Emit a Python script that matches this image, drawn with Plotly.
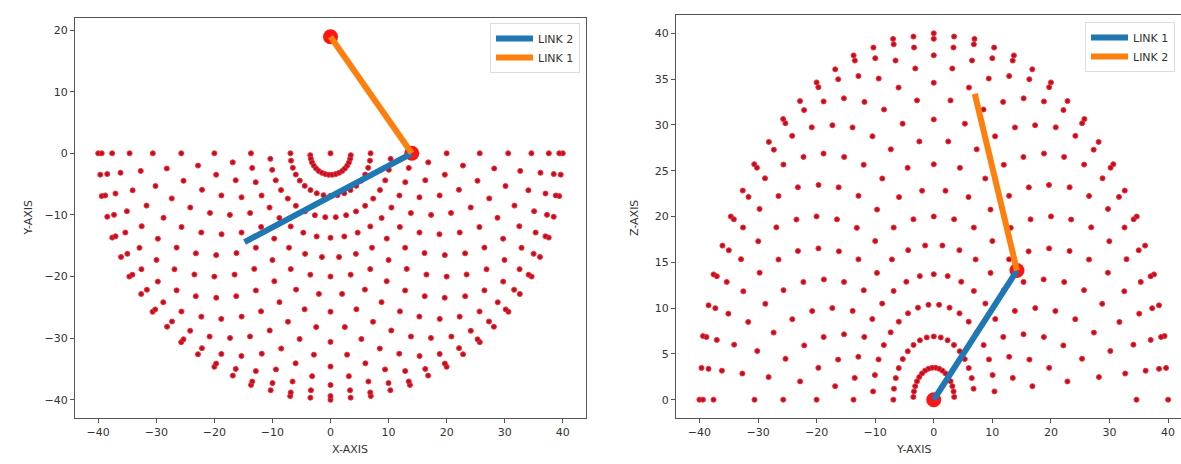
import numpy as np
import plotly.graph_objects as go

# ---------------- data ----------------
# ring radii of the sampled reach points (even / odd sampling rows)
even_radii = [40.0, 39.4, 37.6, 34.6, 30.6, 25.7, 20.0, 13.7, 6.9]
odd_radii = [39.8, 38.6, 36.3, 32.8, 28.3, 22.9, 16.9, 10.4, 3.5]
center_point = [0.0]

# angles (degrees) of the dots on each ring, left view (X-Y, lower half)
left_even_angles = [-180, -170, -160, -150, -140, -130, -120, -110, -100, -90,
                    -80, -70, -60, -50, -40, -30, -20, -10, 0]
left_odd_angles = [-175, -165, -155, -145, -135, -125, -115, -105, -95,
                   -85, -75, -65, -55, -45, -35, -25, -15, -5]
# right view (Y-Z, upper half)
right_even_angles = [0, 10, 20, 30, 40, 50, 60, 70, 80, 90,
                     100, 110, 120, 130, 140, 150, 160, 170, 180]
right_odd_angles = [5, 15, 25, 35, 45, 55, 65, 75, 85,
                    95, 105, 115, 125, 135, 145, 155, 165, 175]
# dots that are absent in the right view on the Z = 0 row: (radius, angle)
right_absent_r = [39.4, 37.6, 30.6, 25.7, 20.0, 13.7, 6.9, 34.6]
right_absent_a = [0, 0, 0, 0, 0, 0, 0, 180]

# links, left view (X-Y)
left_link1_x = [0.0, 14.0]
left_link1_y = [18.9, 0.0]
left_link2_x = [14.0, -14.8]
left_link2_y = [0.0, -14.4]
left_joint_x = [0.0, 14.0]
left_joint_y = [18.9, 0.0]

# links, right view (Y-Z)
right_link1_x = [0.0, 14.2]
right_link1_y = [0.0, 14.1]
right_link2_x = [14.2, 7.0]
right_link2_y = [14.1, 33.4]
right_joint_x = [0.0, 14.2]
right_joint_y = [0.0, 14.1]

x_ticks = [-40, -30, -20, -10, 0, 10, 20, 30, 40]
left_y_ticks = [-40, -30, -20, -10, 0, 10, 20]
right_y_ticks = [0, 5, 10, 15, 20, 25, 30, 35, 40]

BLUE = "#1f77b4"
ORANGE = "#ff7f0e"


def polar_cloud(radii_even, radii_odd, ang_even, ang_odd, absent=()):
    absent = set((round(r, 1), int(a)) for r, a in absent)
    xs, ys = [], []
    for radii, angs in ((radii_even, ang_even), (radii_odd, ang_odd)):
        for r in radii:
            for a in angs:
                if (round(r, 1), int(a)) in absent:
                    continue
                xs.append(r * np.cos(np.radians(a)))
                ys.append(r * np.sin(np.radians(a)))
    xs.extend(center_point)
    ys.extend(center_point)
    return np.array(xs), np.array(ys)


lx, ly = polar_cloud(even_radii, odd_radii, left_even_angles, left_odd_angles)
rx, ry = polar_cloud(even_radii, odd_radii, right_even_angles, right_odd_angles,
                     absent=list(zip(right_absent_r, right_absent_a)))

dot_marker = dict(size=5, color="#b5102c", line=dict(color="#ff2a2a", width=1))
ball_marker = dict(size=15, color="#ff1414")

fig = go.Figure()

# ---- left subplot ----
fig.add_trace(go.Scatter(x=lx, y=ly, mode="markers", marker=dot_marker,
                         showlegend=False, xaxis="x", yaxis="y"))
fig.add_trace(go.Scatter(x=left_joint_x, y=left_joint_y, mode="markers",
                         marker=ball_marker, showlegend=False, xaxis="x", yaxis="y"))
fig.add_trace(go.Scatter(x=left_link2_x, y=left_link2_y, mode="lines",
                         line=dict(color=BLUE, width=6), name="LINK 2",
                         legend="legend", xaxis="x", yaxis="y"))
fig.add_trace(go.Scatter(x=left_link1_x, y=left_link1_y, mode="lines",
                         line=dict(color=ORANGE, width=6), name="LINK 1",
                         legend="legend", xaxis="x", yaxis="y"))

# ---- right subplot ----
fig.add_trace(go.Scatter(x=rx, y=ry, mode="markers", marker=dot_marker,
                         showlegend=False, xaxis="x2", yaxis="y2"))
fig.add_trace(go.Scatter(x=right_joint_x, y=right_joint_y, mode="markers",
                         marker=ball_marker, showlegend=False, xaxis="x2", yaxis="y2"))
fig.add_trace(go.Scatter(x=right_link1_x, y=right_link1_y, mode="lines",
                         line=dict(color=BLUE, width=6), name="LINK 1",
                         legend="legend2", xaxis="x2", yaxis="y2"))
fig.add_trace(go.Scatter(x=right_link2_x, y=right_link2_y, mode="lines",
                         line=dict(color=ORANGE, width=6), name="LINK 2",
                         legend="legend2", xaxis="x2", yaxis="y2"))

W, H = 1181, 464
FONT = "DejaVu Sans"
TXT = "#333333"
tickfont = dict(family=FONT, size=11, color=TXT)
axis_common = dict(showgrid=False, zeroline=False, showline=True, linecolor="#555555",
                   linewidth=1, ticks="outside", ticklen=4, tickcolor="#555555",
                   tickfont=tickfont)
legend_common = dict(bgcolor="rgba(255,255,255,0.9)", bordercolor="#dddddd",
                     borderwidth=1, font=dict(family=FONT, size=11, color=TXT),
                     itemwidth=37)

fig.update_layout(
    width=W, height=H,
    margin=dict(l=0, r=0, t=0, b=0, autoexpand=False),
    paper_bgcolor="white", plot_bgcolor="white",
    xaxis=dict(domain=[75 / W, 586 / W], range=[-44, 44], tickvals=x_ticks,
               mirror=True, anchor="y", **axis_common),
    yaxis=dict(domain=[1 - 418 / H, 1 - 18 / H], range=[-42.95, 21.95],
               tickvals=left_y_ticks, mirror=True, anchor="x", **axis_common),
    xaxis2=dict(domain=[676 / W, 1.0], range=[-44, 42.2], tickvals=x_ticks,
                mirror=True, anchor="y2", **axis_common),
    yaxis2=dict(domain=[1 - 418 / H, 1 - 15 / H], range=[-2, 42],
                tickvals=right_y_ticks, mirror=False, anchor="x2", **axis_common),
    legend=dict(x=580 / W, y=1 - 23 / H, xanchor="right", yanchor="top",
                **legend_common),
    legend2=dict(x=1085 / W, y=1 - 22 / H, xanchor="left", yanchor="top",
                 **legend_common),
    annotations=[
        dict(text="X-AXIS", x=330 / W, y=1 - 458 / H, xref="paper", yref="paper",
             showarrow=False, font=dict(family=FONT, size=11, color=TXT)),
        dict(text="Y-AXIS", x=19 / W, y=1 - 218 / H, xref="paper", yref="paper",
             showarrow=False, textangle=-90, font=dict(family=FONT, size=11, color=TXT)),
        dict(text="Y-AXIS", x=933 / W, y=1 - 458 / H, xref="paper", yref="paper",
             showarrow=False, font=dict(family=FONT, size=11, color=TXT)),
        dict(text="Z-AXIS", x=634 / W, y=1 - 218 / H, xref="paper", yref="paper",
             showarrow=False, textangle=-90, font=dict(family=FONT, size=11, color=TXT)),
    ],
)

fig.write_html("out.html")
